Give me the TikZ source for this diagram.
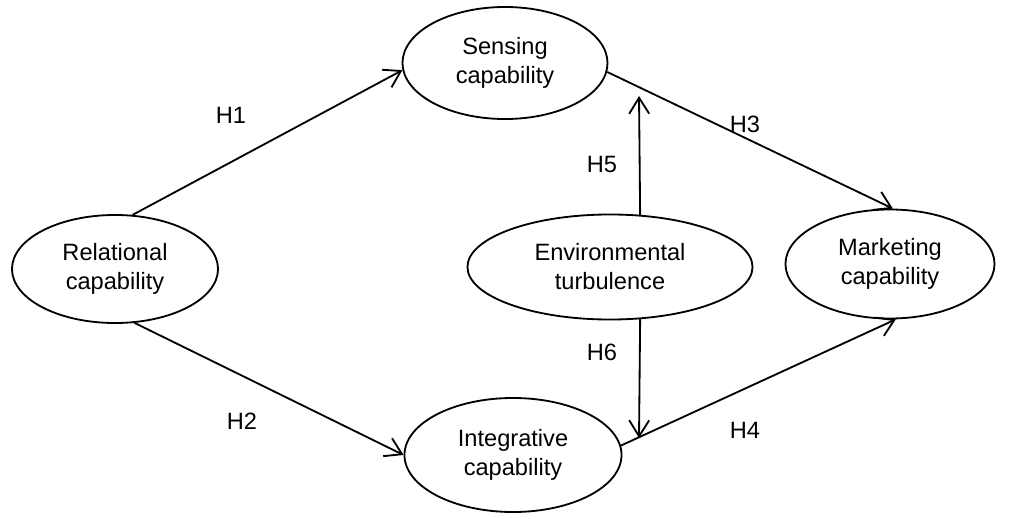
\documentclass[tikz,border=0pt]{standalone}
\usepackage{fontspec}
\setmainfont{Liberation Sans}
\usepackage{tikz}
\usetikzlibrary{arrows.meta,shapes.geometric}

\begin{document}
\begin{tikzpicture}[
        x=0.025cm, y=-0.025cm,
        >={Straight Barb[length=4mm,width=5mm]},
        construct/.style={ellipse,draw,line width=1.3pt,inner sep=0pt,align=center,
          font=\fontsize{16.8}{20.6}\selectfont},
        hyp/.style={font=\fontsize{16.8}{20.6}\selectfont},
        path/.style={->,line width=1.3pt}
      ]
        \useasboundingbox (0,0) rectangle (1014,519);
        \node[construct,minimum width=5.15cm,minimum height=2.7cm]   (rel)   at (115,269) {Relational\\capability};
        \node[construct,minimum width=5.125cm,minimum height=2.8cm]  (sens)  at (505,63)  {Sensing\\capability};
        \node[construct,minimum width=7.125cm,minimum height=2.625cm] (env)  at (610,267) {Environmental\\turbulence};
        \node[construct,minimum width=5.225cm,minimum height=2.725cm] (mkt)  at (890,264) {Marketing\\capability};
        \node[construct,minimum width=5.425cm,minimum height=2.85cm] (integ) at (513,455) {Integrative\\capability};
        % moderating arrows end near the paths
        \coordinate (m5) at (639,96);
        \coordinate (m6) at (639,438);
        \draw[path] (rel.72)   -- (sens.184);
        \draw[path] (rel.-70)  -- (integ.180);
        \draw[path] (sens.-5)  -- (mkt.87);
        \draw[path] (integ.5)  -- (mkt.-84);
        \draw[path] (env.60)   -- (m5);
        \draw[path] (env.-60)  -- (m6);
        \node[hyp] (h1) at (231,115) {H1};
        \node[hyp] (h2) at (242,421) {H2};
        \node[hyp] (h3) at (745,124) {H3};
        \node[hyp] (h4) at (745,430) {H4};
        \node[hyp] (h5) at (602,164) {H5};
        \node[hyp] (h6) at (602,352) {H6};
      \end{tikzpicture}
\end{document}
